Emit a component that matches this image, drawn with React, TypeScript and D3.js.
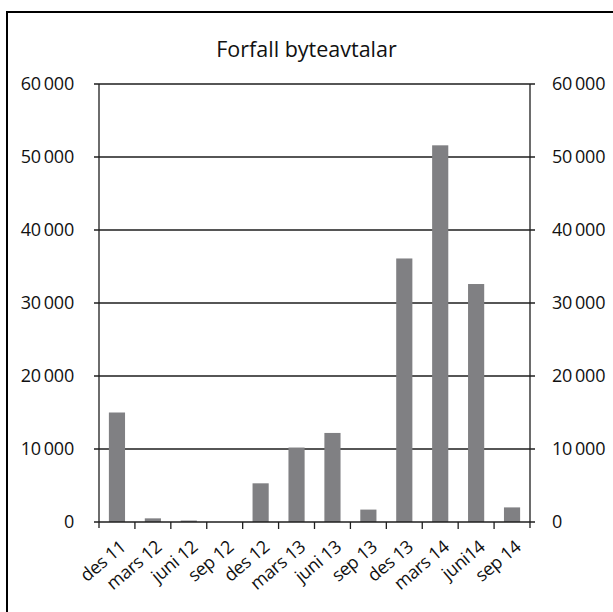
import { useEffect, useRef } from "react";
import * as d3 from "d3";

const categories = [
  "des 11", "mars 12", "juni 12", "sep 12", "des 12", "mars 13",
  "juni 13", "sep 13", "des 13", "mars 14", "juni14", "sep 14",
];
const values = [15000, 500, 200, 0, 5300, 10200, 12200, 1700, 36100, 51600, 32600, 2000];
const yTicks = [0, 10000, 20000, 30000, 40000, 50000, 60000];
const title = "Forfall byteavtalar";

const FONT = "'Open Sans', 'Noto Sans', sans-serif";

export default function App() {
  const svgRef = useRef<SVGSVGElement>(null);

  useEffect(() => {
    if (!svgRef.current) return;
    const W = 613, H = 612;
    const left = 99, right = 530, top = 84, bottom = 522;

    const svg = d3.select(svgRef.current);
    svg.selectAll("*").remove();
    svg.attr("width", W).attr("height", H);

    svg.append("rect").attr("width", W).attr("height", H).attr("fill", "#fff");

    // outer frame (runs off the right / bottom edge)
    svg.append("rect")
      .attr("x", 7).attr("y", 12)
      .attr("width", 640).attr("height", 640)
      .attr("fill", "none").attr("stroke", "#000").attr("stroke-width", 2);

    const x = d3.scaleBand().domain(categories).range([left, right]).paddingInner(0.55).paddingOuter(0.275);
    const xb = d3.scaleBand().domain(categories).range([left, right]);
    const y = d3.scaleLinear().domain([0, 60000]).range([bottom, top]);

    const fmt = (v: number) => d3.format(",")(v).replace(/,/g, "\u2009");

    // gridlines + ticks
    svg.append("g").selectAll("line")
      .data(yTicks.filter((t) => t > 0))
      .join("line")
      .attr("x1", left - 5).attr("x2", right + 5)
      .attr("y1", (d) => y(d)).attr("y2", (d) => y(d))
      .attr("stroke", "#1e1e1e").attr("stroke-width", 1.4);

    // bars
    svg.append("g").selectAll("rect")
      .data(values)
      .join("rect")
      .attr("x", (_d, i) => x(categories[i])!)
      .attr("width", x.bandwidth())
      .attr("y", (d) => y(d))
      .attr("height", (d) => bottom - y(d))
      .attr("fill", "#808083");

    // axes lines
    svg.append("line").attr("x1", left).attr("x2", left).attr("y1", top).attr("y2", bottom + 6)
      .attr("stroke", "#1e1e1e").attr("stroke-width", 1.3);
    svg.append("line").attr("x1", right).attr("x2", right).attr("y1", top).attr("y2", bottom + 6)
      .attr("stroke", "#1e1e1e").attr("stroke-width", 1.3);
    svg.append("line").attr("x1", left - 5).attr("x2", right + 5).attr("y1", bottom).attr("y2", bottom)
      .attr("stroke", "#1e1e1e").attr("stroke-width", 1.6);

    // x ticks at band boundaries
    svg.append("g").selectAll("line")
      .data(categories.slice(1))
      .join("line")
      .attr("x1", (d) => xb(d)!).attr("x2", (d) => xb(d)!)
      .attr("y1", bottom).attr("y2", bottom + 7)
      .attr("stroke", "#1e1e1e").attr("stroke-width", 1.3);

    // y labels left / right
    svg.append("g").selectAll("text")
      .data(yTicks)
      .join("text")
      .attr("x", left - 25).attr("y", (d) => y(d))
      .attr("dy", "0.36em")
      .attr("text-anchor", "end")
      .attr("font-family", FONT).attr("font-size", 18).attr("letter-spacing", -0.2).attr("fill", "#111")
      .text(fmt);
    svg.append("g").selectAll("text")
      .data(yTicks)
      .join("text")
      .attr("x", right + 22).attr("y", (d) => y(d))
      .attr("dy", "0.36em")
      .attr("text-anchor", "start")
      .attr("font-family", FONT).attr("font-size", 18).attr("letter-spacing", -0.2).attr("fill", "#111")
      .text(fmt);

    // x labels rotated
    svg.append("g").selectAll("text")
      .data(categories)
      .join("text")
      .attr("transform", (d) => `translate(${xb(d)! + xb.bandwidth() / 2 + 6},${bottom + 22}) rotate(-40)`)
      .attr("text-anchor", "end")
      .attr("dy", "0.35em")
      .attr("font-family", FONT).attr("font-size", 18).attr("letter-spacing", -0.4).attr("fill", "#111")
      .text((d) => d);

    svg.append("text")
      .attr("x", (left + right) / 2 - 8).attr("y", 57)
      .attr("text-anchor", "middle")
      .attr("font-family", FONT).attr("font-size", 21.5).attr("fill", "#111")
      .text(title);
  }, []);

  return (
    <svg ref={svgRef} style={{ position: "absolute", left: 0, top: 0, display: "block" }} />
  );
}
